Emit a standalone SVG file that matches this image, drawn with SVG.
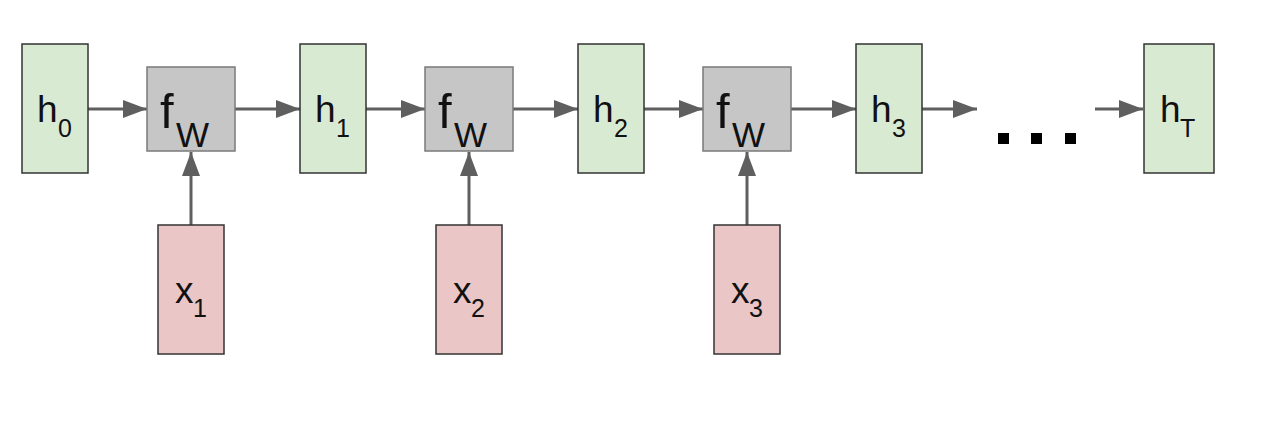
<svg xmlns="http://www.w3.org/2000/svg" width="1284" height="424" viewBox="0 0 1284 424">
<style>
.h{fill:#d9ead3;stroke:#333;stroke-width:1.5}
.f{fill:#c6c6c6;stroke:#7a7a7a;stroke-width:1.5}
.x{fill:#eac6c6;stroke:#333;stroke-width:1.5}
.c{stroke:#5f5f5f;stroke-width:3;fill:none;marker-end:url(#ah)}
text{font-family:"Liberation Sans",Arial,sans-serif;fill:#111}
.big{font-size:37px}
.sub{font-size:25px}
.fb{font-size:49px}
.fs{font-size:35px}
</style>
<defs>
<marker id="ah" markerWidth="8" markerHeight="6" refX="8" refY="3" orient="auto" markerUnits="strokeWidth">
<path d="M0,0 L8,3 L0,6 z" fill="#5f5f5f"/>
</marker>
</defs>
<rect width="1284" height="424" fill="#fff"/>
<g id="connectors">
<line class="c" x1="88" y1="109" x2="147" y2="109"/>
<line class="c" x1="235" y1="109" x2="300" y2="109"/>
<line class="c" x1="366" y1="109" x2="425" y2="109"/>
<line class="c" x1="513" y1="109" x2="578" y2="109"/>
<line class="c" x1="644" y1="109" x2="703" y2="109"/>
<line class="c" x1="791" y1="109" x2="856" y2="109"/>
<line class="c" x1="922" y1="109" x2="977" y2="109"/>
<line class="c" x1="1095" y1="109" x2="1143" y2="109"/>
<line class="c" x1="191" y1="225" x2="191" y2="152"/>
<line class="c" x1="469" y1="225" x2="469" y2="152"/>
<line class="c" x1="747" y1="225" x2="747" y2="152"/>
</g>
<g id="h0"><rect class="h" x="22" y="44" width="66" height="129"/><text x="37" y="122" class="big">h</text><text x="58" y="137" class="sub">0</text></g>
<g id="h1"><rect class="h" x="300" y="44" width="66" height="129"/><text x="315" y="122" class="big">h</text><text x="336" y="137" class="sub">1</text></g>
<g id="h2"><rect class="h" x="578" y="44" width="66" height="129"/><text x="593" y="122" class="big">h</text><text x="614" y="137" class="sub">2</text></g>
<g id="h3"><rect class="h" x="856" y="44" width="66" height="129"/><text x="871" y="122" class="big">h</text><text x="892" y="137" class="sub">3</text></g>
<g id="hT"><rect class="h" x="1144" y="44" width="70" height="129"/><text x="1160" y="122" class="big">h</text><text x="1180" y="137" class="sub">T</text></g>
<g id="f1"><rect class="f" x="147" y="67" width="88" height="84"/><text x="160" y="128" class="fb">f</text><text x="176" y="147" class="fs">W</text></g>
<g id="f2"><rect class="f" x="425" y="67" width="88" height="84"/><text x="438" y="128" class="fb">f</text><text x="454" y="147" class="fs">W</text></g>
<g id="f3"><rect class="f" x="703" y="67" width="88" height="84"/><text x="716" y="128" class="fb">f</text><text x="732" y="147" class="fs">W</text></g>
<g id="x1"><rect class="x" x="158" y="225" width="66" height="129"/><text x="175" y="303" class="big">x</text><text x="193" y="317" class="sub">1</text></g>
<g id="x2"><rect class="x" x="436" y="225" width="66" height="129"/><text x="453" y="303" class="big">x</text><text x="471" y="317" class="sub">2</text></g>
<g id="x3"><rect class="x" x="714" y="225" width="66" height="129"/><text x="731" y="303" class="big">x</text><text x="749" y="317" class="sub">3</text></g>
<g id="dots" fill="#000">
<rect x="998" y="133" width="11" height="11"/>
<rect x="1031" y="133" width="11" height="11"/>
<rect x="1065" y="133" width="11" height="11"/>
</g>
</svg>
